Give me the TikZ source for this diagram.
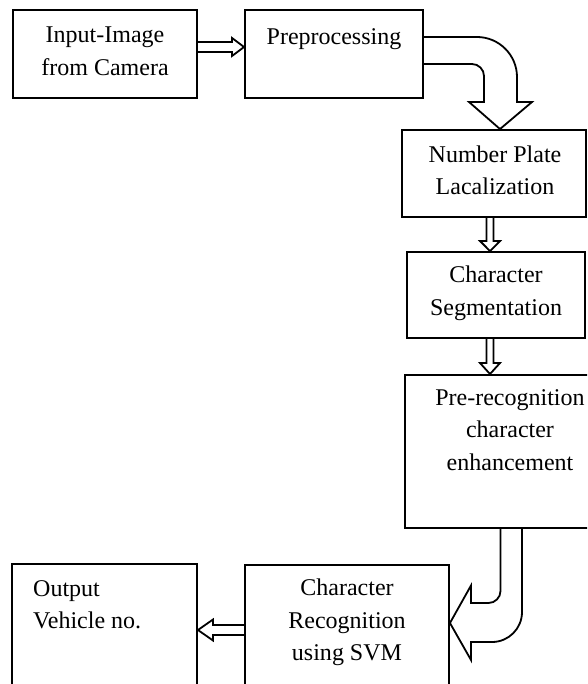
\documentclass[tikz,border=0pt]{standalone}
\usepackage{fontspec}
\setmainfont{Liberation Serif}
\usetikzlibrary{calc}
\tikzset{
  box/.style={draw, line width=1.9pt, inner sep=0pt, rectangle},
  txt/.style={inner sep=0pt, align=center, font=\fontsize{24}{32.5}\selectfont},
  arr/.style={draw, line width=1.8pt, line join=miter}
}
\begin{document}
\begin{tikzpicture}[x=1pt,y=-1pt]
\useasboundingbox (0,0) rectangle (587,684);
\clip (0,0) rectangle (587,684);
\fill[white] (0,0) rectangle (587,684);
% boxes
\node[box, minimum width=184pt, minimum height=88pt] (b1) at (105,54) {};
\node[box, minimum width=178pt, minimum height=88pt] (b2) at (334,54) {};
\node[box, minimum width=184pt, minimum height=87pt] (b3) at (494,173.5) {};
\node[box, minimum width=178pt, minimum height=86pt] (b4) at (496,295) {};
\node[box, minimum width=210pt, minimum height=153pt] (b5) at (510,451.5) {};
\node[box, minimum width=204pt, minimum height=155pt] (b6) at (347,642.5) {};
\node[box, minimum width=185pt, minimum height=156pt] (out) at (104.5,642) {};
% texts
\node[txt] (t1) at (105,51.3) {Input-Image\\from Camera};
\node[txt, anchor=base] (t2) at (334,45) {Preprocessing};
\node[txt] (t3) at (495,170.5) {Number Plate\\Lacalization};
\node[txt] (t4) at (496,293.3) {Character\\Segmentation};
\node[txt] (t5) at (510,429.8) {Pre-recognition\\character\\enhancement};
\node[txt] (t6) at (347,622.7) {Character\\Recognition\\using SVM};
\node[txt, align=left, anchor=west] (t7) at (33,604.9) {Output\\Vehicle no.};
% straight block arrows
\draw[arr] ($(b1.east)+(0,-12)$) -- (232,42) -- (232,38) -- ($(b2.west)+(0,-7)$)
  -- (232,56) -- (232,52) -- ($(b1.east)+(0,-2)$);
\draw[arr] ($(b3.south)+(-7.5,0)$) -- (486.5,241) -- (480,241) -- ($(b4.north)+(-6,0)$)
  -- (500,241) -- (493.5,241) -- ($(b3.south)+(-0.5,0)$);
\draw[arr] ($(b4.south)+(-9.5,0)$) -- (486.5,363) -- (480,363) -- ($(b5.north)+(-20,0)$)
  -- (500,363) -- (493.5,363) -- ($(b4.south)+(-2.5,0)$);
\draw[arr] ($(b6.west)+(0,-17.5)$) -- (213,625) -- (213,619.5) -- ($(out.east)+(0,-12)$)
  -- (213,640.5) -- (213,635) -- ($(b6.west)+(0,-7.5)$);
% curved block arrow b2 -> b3
\draw[arr] ($(b2.east)+(0,-17)$) -- (477,37) .. controls (499,37) and (517,55) .. (517,77)
  -- (517,102) -- (532,102) -- ($(b3.north)+(6,0)$) -- (469,102) -- (484,102) -- (484,76)
  .. controls (484,69.4) and (478.6,64) .. (472,64) -- ($(b2.east)+(0,10)$);
% curved block arrow b5 -> b6
\draw[arr] ($(b5.south)+(-9.5,0)$) -- (500.5,591) .. controls (500.5,597.6) and (495.1,603) .. (488.5,603)
  -- (471,603) -- (471,585.5) -- ($(b6.east)+(0,-19.5)$) -- (471,660) -- (471,642)
  -- (492,642) .. controls (508.6,642) and (522,628.6) .. (522,612) -- ($(b5.south)+(12,0)$);
\end{tikzpicture}
\end{document}
